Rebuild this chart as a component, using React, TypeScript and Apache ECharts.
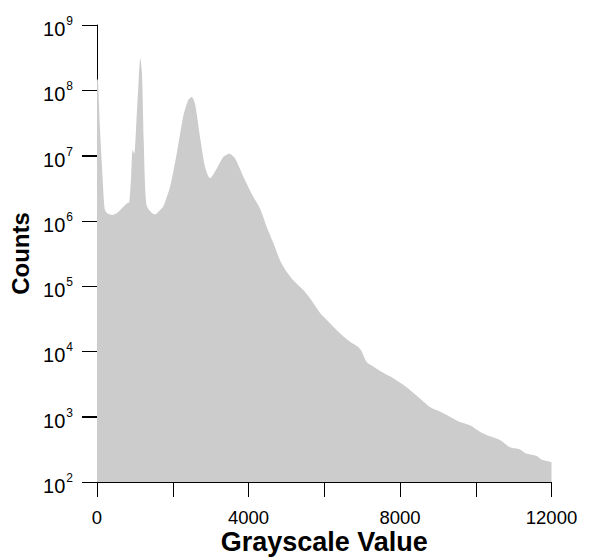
import React, { useEffect, useRef } from "react";
import * as echarts from "echarts";

const grayscale = [
  0, 26, 80, 132, 203, 264, 396, 528, 792, 853, 906, 942, 985, 1038, 1101, 1143,
  1188, 1233, 1275, 1320, 1452, 1539, 1671, 1750, 1927, 2104, 2278, 2410, 2500,
  2587, 2719, 2851, 2983, 3160, 3334, 3493, 3643, 3862, 4126, 4303, 4390, 4480,
  4654, 4831, 5008, 5182, 5446, 5623, 5887, 6151, 6415, 6679, 6898, 6988, 7120,
  7294, 7558, 7822, 8086, 8263, 8527, 8791, 9055, 9319, 9583, 9847, 10111, 10375,
  10639, 10903, 11167, 11344, 11608, 11722, 11872, 11959, 12000,
];

const counts = [
  1.5e8, 1.4e8, 2.5e7, 6.8e6, 1.5e6, 1.32e6, 1.23e6, 1.32e6, 1.86e6, 1.95e6,
  5.4e6, 1.23e7, 1.07e7, 3.1e7, 1.45e8, 3.1e8, 1.8e8, 1.74e7, 2.95e6, 1.66e6,
  1.32e6, 1.26e6, 1.48e6, 1.66e6, 3.3e6, 1.07e7, 4.0e7, 7.1e7, 7.9e7, 6.3e7,
  1.95e7, 6.8e6, 4.5e6, 6.3e6, 9.5e6, 1.07e7, 9.1e6, 4.8e6, 2.34e6, 1.55e6,
  1.15e6, 8.1e5, 4.6e5, 2.5e5, 1.66e5, 1.23e5, 8.7e4, 6.5e4, 3.9e4, 2.7e4, 1.9e4,
  1.41e4, 1.17e4, 1.0e4, 6.9e3, 5.9e3, 4.7e3, 3.9e3, 3.1e3, 2.57e3, 1.9e3, 1.41e3,
  1.2e3, 1.0e3, 830, 740, 590, 500, 440, 340, 316, 270, 250, 224, 209, 204, 200,
];

const xTickLabels = ["0", "4000", "8000", "12000"];
const yExponents = [2, 3, 4, 5, 6, 7, 8, 9];

const FONT = "'Liberation Sans', Arial, sans-serif";
const TICK_LEN = 15;

export default function App() {
  const ref = useRef<HTMLDivElement>(null);
  useEffect(() => {
    if (!ref.current) return;
    const chart = echarts.init(ref.current, null, { renderer: "svg" });
    const data = grayscale.map((g, i) => [g, counts[i]]);
    chart.setOption({
      animation: false,
      backgroundColor: "#ffffff",
      grid: { left: 97, top: 25, right: 40.5, bottom: 75, containLabel: false, outerBoundsMode: "none" },
      xAxis: {
        type: "value",
        min: 0,
        max: 12000,
        interval: 2000,
        name: "Grayscale Value",
        nameLocation: "middle",
        nameGap: 49,
        nameMoveOverlap: false,
        nameTextStyle: { fontFamily: FONT, fontSize: 27, lineHeight: 22, fontWeight: "bold", color: "#000" },
        axisLine: { show: true, lineStyle: { color: "#000", width: 1 } },
        axisTick: { show: true, inside: false, length: TICK_LEN, lineStyle: { color: "#000", width: 1 } },
        axisLabel: {
          margin: 27,
          fontFamily: FONT,
          fontSize: 18.5,
          lineHeight: 17,
          color: "#000",
          formatter: (v: number) => (xTickLabels.includes(String(v)) ? String(v) : ""),
        },
        splitLine: { show: false },
      },
      yAxis: {
        type: "log",
        logBase: 10,
        min: 100,
        max: 1e9,
        name: "Counts",
        nameLocation: "middle",
        nameGap: 65,
        nameMoveOverlap: false,
        nameRotate: 90,
        nameTextStyle: { fontFamily: FONT, fontSize: 24, fontWeight: "bold", color: "#000" },
        axisLine: { show: true, lineStyle: { color: "#000", width: 1 } },
        axisTick: { show: true, inside: false, length: TICK_LEN, lineStyle: { color: "#000", width: 1 } },
        axisLabel: {
          margin: 24,
          fontFamily: FONT,
          fontSize: 19,
          color: "#000",
          padding: [4, 0, 0, 0],
          formatter: (v: number) => {
            const e = Math.round(Math.log10(v));
            return yExponents.includes(e) ? `{b|10}{e|${e}}` : "";
          },
          rich: {
            b: { fontFamily: FONT, fontSize: 20, color: "#000", lineHeight: 24, verticalAlign: "bottom" },
            e: { fontFamily: FONT, fontSize: 12, color: "#000", lineHeight: 24, verticalAlign: "top", padding: [0, 0, 0, 1] },
          },
        },
        splitLine: { show: false },
      },
      series: [
        {
          type: "line",
          data,
          showSymbol: false,
          smooth: 0.25,
          lineStyle: { width: 0, color: "#cccccc" },
          areaStyle: { color: "#cccccc", opacity: 1, origin: "start" },
          z: 1,
        },
      ],
    });
    // y-axis ticks placed through the axis scale
    const x0 = chart.convertToPixel({ xAxisIndex: 0 }, 0) as number;
    const ticks = yExponents.map((e) => {
      const y = chart.convertToPixel({ yAxisIndex: 0 }, Math.pow(10, e)) as number;
      const yy = Math.round(y) + 0.5;
      return {
        type: "line",
        z: 10,
        silent: true,
        shape: { x1: x0 - TICK_LEN, y1: yy, x2: x0, y2: yy },
        style: { stroke: "#000", lineWidth: 1 },
      };
    });
    chart.setOption({ graphic: ticks });
    return () => chart.dispose();
  }, []);
  return <div ref={ref} style={{ width: 592, height: 557, position: "absolute", left: 0, top: 0 }} />;
}
